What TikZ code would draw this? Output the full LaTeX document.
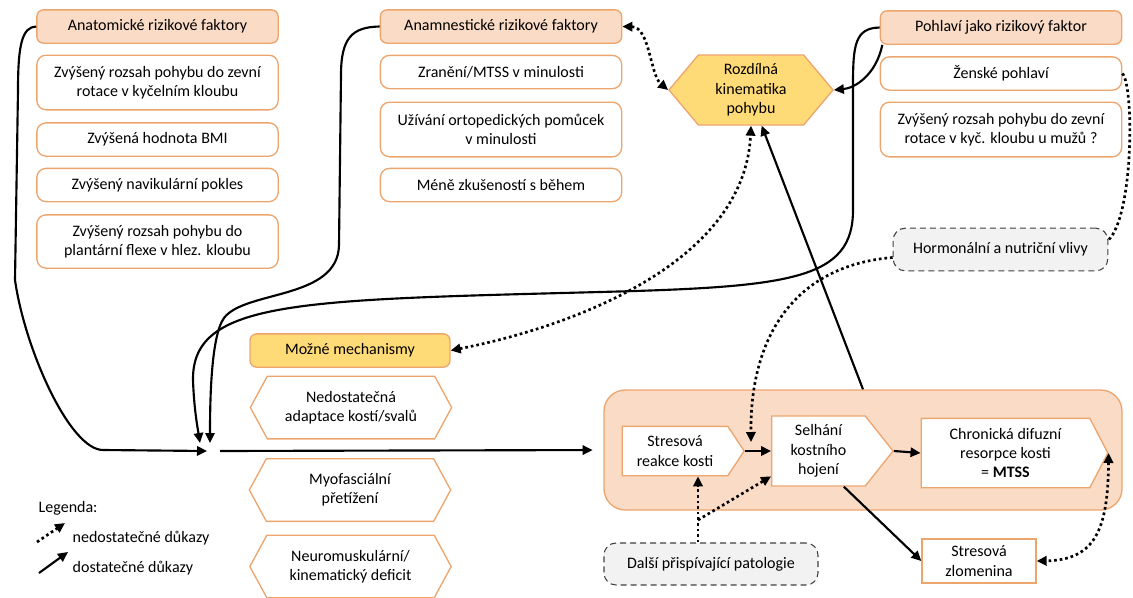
\documentclass[tikz,border=0pt]{standalone}
\usepackage{fontspec}
\setmainfont{Carlito}
\usetikzlibrary{shapes.symbols,arrows.meta}
\definecolor{rfborder}{RGB}{237,165,110}
\definecolor{rfpeach}{RGB}{250,220,198}
\definecolor{rfgold}{RGB}{255,219,120}
\definecolor{rfgrey}{RGB}{242,242,242}

\begin{document}
\begin{tikzpicture}[x=0.75pt, y=-0.75pt, font=\fontsize{12}{14.5}\selectfont,
  headbox/.style={draw=rfborder, fill=rfpeach, line width=1pt, rounded corners=5pt, minimum width=181pt, minimum height=25pt, inner sep=2pt},
  itembox/.style={draw=rfborder, fill=white, line width=1pt, rounded corners=7pt, minimum width=181pt, align=center, inner sep=2pt},
  hexbox/.style={signal, signal to=east and west, draw=rfborder, fill=white, line width=1pt, align=center, inner sep=1pt},
  arrowbox/.style={signal, signal to=east, draw=rfborder, fill=white, line width=1pt, align=center, inner sep=1pt},
  dashbox/.style={draw=black!75, dash pattern=on 4.5pt off 3pt, fill=rfgrey, rounded corners=9pt, line width=0.8pt, inner sep=2pt},
  solidarr/.style={line width=1.6pt, -{Triangle[length=7.5pt,width=7pt]}},
  dotarr/.style={line width=2pt, dash pattern=on 2pt off 2.2pt, -{Triangle[length=7.5pt,width=7pt]}},
  dotboth/.style={line width=2pt, dash pattern=on 2pt off 2.2pt, {Triangle[length=7.5pt,width=7pt]}-{Triangle[length=7.5pt,width=7pt]}},
  dotline/.style={line width=2pt, dash pattern=on 2pt off 2.2pt},
]
\useasboundingbox (0,0) rectangle (1133,597);

% Risk factor columns
\node[headbox] (anat) at (157.5,26.5) {Anatomické rizikové faktory};
\node[itembox, minimum height=41pt] (anat1) at (157.5,82.5) {Zvýšený rozsah pohybu do zevní\\rotace v kyčelním kloubu};
\node[itembox, minimum height=25pt] (anat2) at (157.5,139.5) {Zvýšená hodnota BMI};
\node[itembox, minimum height=25pt] (anat3) at (157.5,185) {Zvýšený navikulární pokles};
\node[itembox, minimum height=40pt] (anat4) at (157.5,241.5) {Zvýšený rozsah pohybu do\\plantární flexe v hlez. kloubu};

\node[headbox] (anam) at (501,26.5) {Anamnestické rizikové faktory};
\node[itembox, minimum height=25pt] (anam1) at (501,72) {Zranění/MTSS v minulosti};
\node[itembox, minimum height=41pt] (anam2) at (501,129.5) {Užívání ortopedických pomůcek\\v minulosti};
\node[itembox, minimum height=25pt] (anam3) at (501,185) {Méně zkušeností s během};

\node[headbox] (pohl) at (1001,27.5) {Pohlaví jako rizikový faktor};
\node[itembox, minimum height=25pt] (pohl1) at (1001,73.5) {Ženské pohlaví};
\node[itembox, minimum height=41pt] (pohl2) at (1001,129.5) {Zvýšený rozsah pohybu do zevní\\rotace v kyč. kloubu u mužů ?};

\node[hexbox, fill=rfgold, minimum width=123pt, minimum height=52.5pt, signal pointer angle=100] (kin) at (751,90) {Rozdílná\\kinematika\\pohybu};

% Mechanisms
\node[headbox, fill=rfgold, minimum width=150pt] (mech) at (350,350.5) {Možné mechanismy};
\node[hexbox, minimum width=151pt, minimum height=47pt, signal pointer angle=123] (mech1) at (351,407.5) {Nedostatečná\\adaptace kostí/svalů};
\node[hexbox, minimum width=151pt, minimum height=47pt, signal pointer angle=123] (mech2) at (350,490) {Myofasciální\\přetížení};
\node[hexbox, minimum width=151pt, minimum height=47pt, signal pointer angle=123] (mech3) at (350.5,566.5) {Neuromuskulární/\\kinematický deficit};

\coordinate (hubL) at (207,451);
\coordinate (hubA) at (210,443);
\coordinate (hubP) at (200,443);
\coordinate (hubOut) at (220,451);

% MTSS cascade
\node[draw=rfborder, fill=rfpeach, line width=1pt, rounded corners=16pt, minimum width=388.5pt, minimum height=90pt] (mtss) at (863,450) {};
\node[arrowbox, minimum width=91.5pt, minimum height=37pt, signal pointer angle=113] (reakce) at (675,451) {Stresová\\reakce kosti};
\node[arrowbox, minimum width=91pt, minimum height=52.5pt, signal pointer angle=103] (selhani) at (818.5,451) {Selhání\\kostního\\hojení};
\node[arrowbox, minimum width=140pt, minimum height=52pt, signal pointer angle=125] (chron) at (1005.5,453) {Chronická difuzní\\resorpce kosti\\= \textbf{MTSS}};
\node[draw=rfborder, fill=white, line width=1pt, minimum width=85.5pt, minimum height=33pt, align=center, inner sep=1pt] (zlom) at (979,561) {Stresová\\zlomenina};

\node[dashbox, minimum width=161pt, minimum height=32pt] (hormon) at (1000.5,249.5) {Hormonální a nutriční vlivy};
\node[dashbox, minimum width=160.5pt, minimum height=31.5pt] (dalsi) at (711,564) {Další přispívající patologie};

% Legend
\node[anchor=west] (legtitle) at (34,508) {Legenda:};
\coordinate (ldot1) at (37,542);
\coordinate (ldot2) at (65,523);
\node[anchor=west] (legdot) at (68,538) {nedostatečné důkazy};
\coordinate (lsol1) at (39,573);
\coordinate (lsol2) at (68,552);
\node[anchor=west] (legsol) at (68,568) {dostatečné důkazy};
\draw[dotarr] (ldot1) -- (ldot2);
\draw[solidarr] (lsol1) -- (lsol2);

% Risk factors into the hub
\draw[solidarr] (anat.west) .. controls (22,27) and (18,45) .. (18,90) -- (15,280) .. controls (25,350) and (70,450) .. (103,450) -- (hubL);
\draw[solidarr] (anam.west) .. controls (352,27) and (341,38) .. (341,75) -- (339,245) .. controls (338,300) and (245,290) .. (224,318) .. controls (211,336) and (210,400) .. (hubA);
\draw[solidarr] (pohl.west) .. controls (855,28) and (853,45) .. (853,85) -- (853,210) .. controls (853,280) and (790,287) .. (600,292) .. controls (300,300) and (192,300) .. (193,380) .. controls (194,410) and (198,430) .. (hubP);
\draw[solidarr] ([xshift=2pt]pohl.south west) .. controls (876,75) and (855,88) .. (kin.east);
\draw[solidarr, shorten >=8pt] (hubOut) -- (mtss.west);

% Kinematics links
\draw[dotboth] (anam.east) .. controls (650,27) and (650,75) .. (kin.west);
\draw[dotboth] (mech.east) .. controls (580,325) and (745,260) .. (kin.south);
\draw[solidarr] (mtss.north) -- ([xshift=8pt]kin.south);

% Cascade
\draw[solidarr] (reakce.east) -- (selhani.west);
\draw[solidarr] (selhani.east) -- (chron.west);
\draw[solidarr] ([xshift=19pt]selhani.south) -- (zlom.west);
\draw[dotboth] (chron.east) .. controls (1108,530) and (1095,560) .. (zlom.east);

% Other influences
\coordinate (hormin) at (751,442);
\coordinate (dbranch) at (698,520);
\draw[dotline] (pohl1.east) .. controls (1134,85) and (1134,215) .. ([yshift=7pt]hormon.east);
\draw[dotarr] ([yshift=-6pt]hormon.west) .. controls (800,265) and (750,330) .. (hormin);
\draw[dotarr] (dalsi.north -| dbranch) -- (dbranch |- reakce.south);
\draw[dotarr] (dbranch) -- ([yshift=-19pt]selhani.west);
\end{tikzpicture}
\end{document}
